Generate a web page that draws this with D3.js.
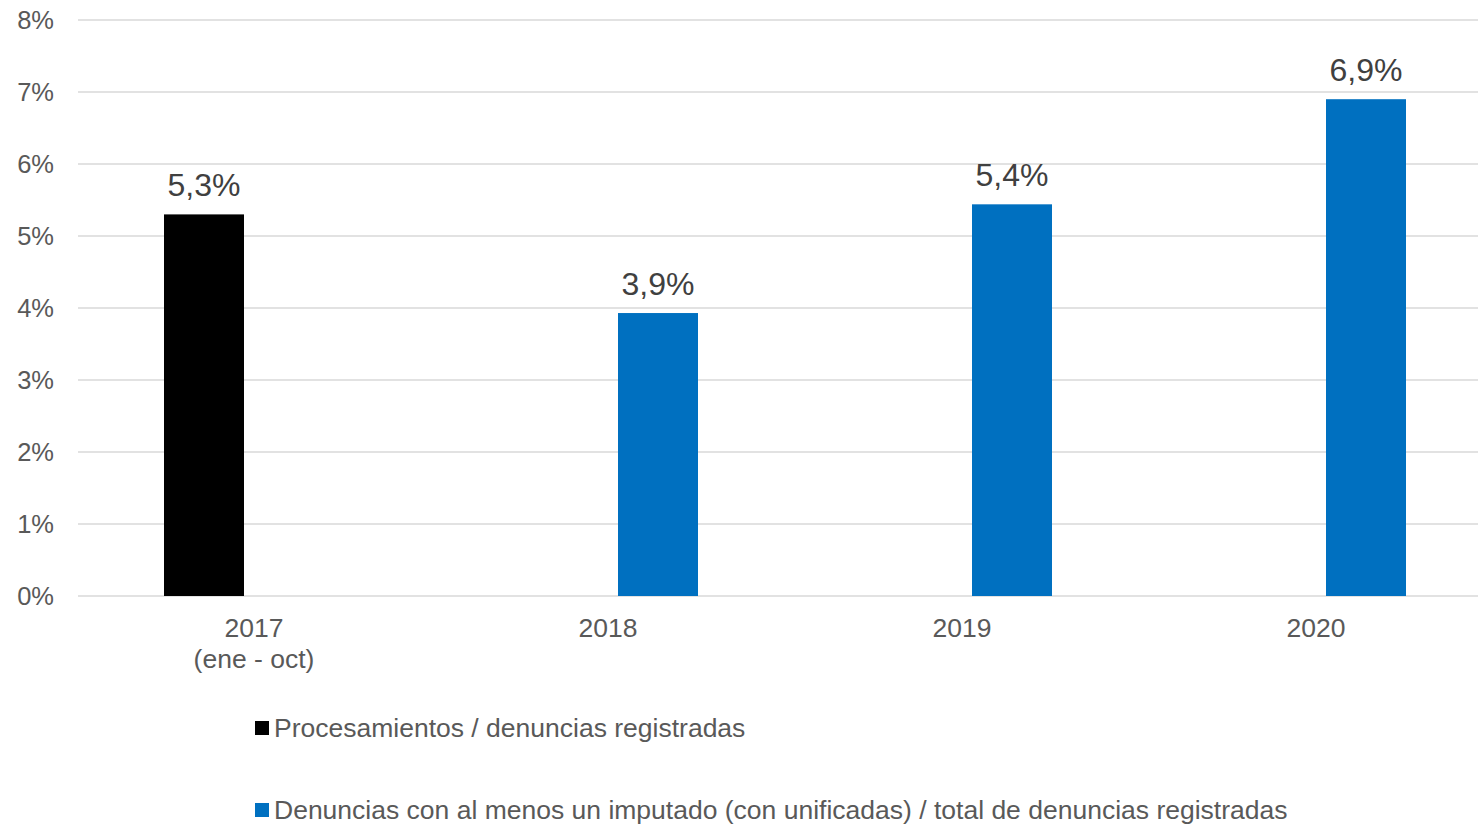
<!DOCTYPE html>
<html>
<head>
<meta charset="utf-8">
<script src="https://cdn.jsdelivr.net/npm/d3@7"></script>
<style>
  html, body { margin: 0; padding: 0; background: #fff; }
  svg { display: block; font-family: "Liberation Sans", Arial, sans-serif; }
</style>
</head>
<body>
<div id="chart"></div>
<script>
// datos
const categories = ["2017", "2018", "2019", "2020"];
const categorySub = ["(ene - oct)", "", "", ""];
const seriesNames = [
  "Procesamientos / denuncias registradas",
  "Denuncias con al menos un imputado (con unificadas) / total de denuncias registradas"
];
const seriesProcesamientos = [5.3, null, null, null];
const seriesImputados = [null, 3.93, 5.44, 6.9];
const yTicks = [0, 1, 2, 3, 4, 5, 6, 7, 8];

const COLORS = ["#000000", "#0070c0"];
const width = 1478, height = 824;
const margin = { top: 20, left: 78, bottom: 596 };

const svg = d3.select("#chart").append("svg")
  .attr("width", width).attr("height", height);

const x0 = d3.scaleBand().domain(categories).range([77, 1493]).padding(0);
const x1 = d3.scaleBand().domain([0, 1])
  .range([0, x0.bandwidth()]).paddingInner(0.2).paddingOuter(0.87);
const y = d3.scaleLinear().domain([0, 8]).range([margin.bottom, margin.top]);

// rejilla
svg.append("g").selectAll("line").data(yTicks).join("line")
  .attr("x1", margin.left).attr("x2", width)
  .attr("y1", d => y(d)).attr("y2", d => y(d))
  .attr("stroke", "#d9d9d9").attr("stroke-width", 1.5);

// eje y
svg.append("g").selectAll("text").data(yTicks).join("text")
  .attr("x", 54).attr("y", d => y(d)).attr("dy", "0.35em")
  .attr("text-anchor", "end").attr("fill", "#595959")
  .attr("font-size", "25.5px")
  .text(d => d + "%");

// barras
const series = [seriesProcesamientos, seriesImputados];
series.forEach((vals, si) => {
  const rows = categories.map((c, i) => ({ c, v: vals[i] })).filter(d => d.v != null);
  const g = svg.append("g");
  g.selectAll("rect").data(rows).join("rect")
    .attr("x", d => x0(d.c) + x1(si))
    .attr("width", x1.bandwidth())
    .attr("y", d => y(d.v))
    .attr("height", d => y(0) - y(d.v))
    .attr("fill", COLORS[si]);
  g.selectAll("text").data(rows).join("text")
    .attr("x", d => x0(d.c) + x1(si) + x1.bandwidth() / 2)
    .attr("y", d => y(d.v) - 18)
    .attr("text-anchor", "middle").attr("fill", "#404040")
    .attr("font-size", "32px")
    .text(d => d.v.toFixed(1).replace(".", ",") + "%");
});

// eje x
const xg = svg.append("g");
xg.selectAll("text.cat").data(categories).join("text")
  .attr("class", "cat")
  .attr("x", d => x0(d) + x0.bandwidth() / 2)
  .attr("y", 637)
  .attr("text-anchor", "middle").attr("fill", "#595959")
  .attr("font-size", "26.5px")
  .text(d => d);
xg.selectAll("text.sub").data(categorySub).join("text")
  .attr("class", "sub")
  .attr("x", (d, i) => x0(categories[i]) + x0.bandwidth() / 2)
  .attr("y", 668)
  .attr("text-anchor", "middle").attr("fill", "#595959")
  .attr("font-size", "26.5px")
  .text(d => d);

// leyenda
const legendY = [728, 810];
const lg = svg.append("g");
seriesNames.forEach((name, i) => {
  lg.append("rect")
    .attr("x", 255).attr("y", legendY[i] - 7)
    .attr("width", 14).attr("height", 14)
    .attr("fill", COLORS[i]);
  lg.append("text")
    .attr("x", 274).attr("y", legendY[i]).attr("dy", "0.35em")
    .attr("fill", "#595959").attr("font-size", "26.5px")
    .text(name);
});
</script>
</body>
</html>
